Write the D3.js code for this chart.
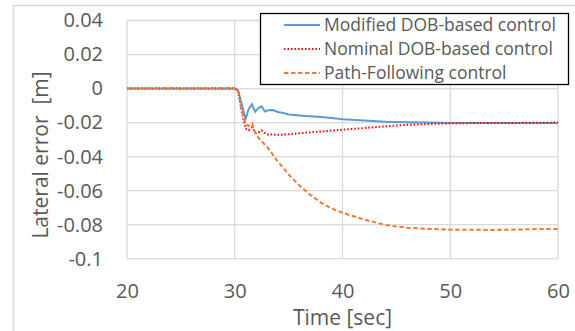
<!DOCTYPE html>
<html>
<head>
<meta charset="utf-8">
<script src="https://cdn.jsdelivr.net/npm/d3@7"></script>
<style>
  body { margin: 0; background: #fff; }
  text { font-family: "Open Sans", sans-serif; fill: #595959; }
</style>
</head>
<body>
<svg id="chart" width="575" height="331"></svg>
<script>
// time axis shared by all three runs [sec]
const time = [20, 30, 30.3, 30.6, 31.0, 31.3, 31.6, 31.9, 32.2, 32.5, 32.8, 33.1, 33.5, 34.0, 34.5,
	35, 36, 37, 38, 39, 40, 42, 44, 46, 48, 50, 52, 54, 56, 58, 60];

// lateral error [m]
const modifiedDob = [0, 0, -0.001, -0.008, -0.018, -0.012, -0.0093, -0.0136, -0.0115, -0.0105, -0.0135, -0.0128,
	-0.0126, -0.0138, -0.0143, -0.0152, -0.0158, -0.0163, -0.0167, -0.0173, -0.018, -0.0188, -0.0195,
	-0.0198, -0.02, -0.0202, -0.0203, -0.0203, -0.0203, -0.0203, -0.0202];
const nominalDob = [0, 0, -0.001, -0.012, -0.0235, -0.0245, -0.0228, -0.026, -0.0258, -0.0246, -0.0262, -0.0271,
	-0.027, -0.0272, -0.027, -0.0268, -0.0263, -0.0257, -0.0252, -0.0247, -0.0242, -0.0232, -0.0222,
	-0.0213, -0.0208, -0.0204, -0.0203, -0.0202, -0.0202, -0.0201, -0.020];
const pathFollowing = [0, 0, -0.001, -0.011, -0.021, -0.022, -0.0205, -0.026, -0.029, -0.031, -0.033, -0.035,
	-0.0385, -0.043, -0.0465, -0.0505, -0.057, -0.0625, -0.067, -0.0705, -0.073, -0.077, -0.0802,
	-0.0818, -0.0825, -0.0829, -0.083, -0.0831, -0.0829, -0.0826, -0.0825];

const xTicks = [20, 30, 40, 50, 60];
const yTicks = [0.04, 0.02, 0, -0.02, -0.04, -0.06, -0.08, -0.1];

const series = [
	{ name: "Modified DOB-based control", values: modifiedDob, color: "#5b9bd5", dash: null },
	{ name: "Nominal DOB-based control", values: nominalDob, color: "#ff0000", dash: "1.5,2" },
	{ name: "Path-Following control", values: pathFollowing, color: "#ed7d31", dash: "4.5,2.5" }
];

const svg = d3.select("#chart");

// outer chart frame (runs off the page on the right / bottom)
svg.append("rect")
	.attr("x", 13.5).attr("y", 5.5)
	.attr("width", 600).attr("height", 400)
	.attr("fill", "none")
	.attr("stroke", "#d9d9d9")
	.attr("stroke-width", 1.5);

const x = d3.scaleLinear().domain([20, 60]).range([127, 558]);
const y = d3.scaleLinear().domain([-0.1, 0.04]).range([258.7, 20.5]);

// gridlines
svg.append("g")
	.selectAll("line")
	.data(yTicks)
	.enter().append("line")
		.attr("x1", x(20)).attr("x2", x(60))
		.attr("y1", d => y(d)).attr("y2", d => y(d))
		.attr("stroke", "#d9d9d9")
		.attr("stroke-width", 1.3);

svg.append("g")
	.selectAll("line")
	.data(xTicks)
	.enter().append("line")
		.attr("x1", d => x(d)).attr("x2", d => x(d))
		.attr("y1", y(0.04)).attr("y2", y(-0.1))
		.attr("stroke", "#d9d9d9")
		.attr("stroke-width", 1.3);

// axes, labels only (plain hyphen for negatives, like the original)
const yAxis = svg.append("g")
	.attr("transform", "translate(" + x(20) + ",0)")
	.call(d3.axisLeft(y).tickValues(yTicks).tickSize(0).tickPadding(24)
		.tickFormat(d => String(+d.toFixed(2))));
const xAxis = svg.append("g")
	.attr("transform", "translate(0," + y(-0.1) + ")")
	.call(d3.axisBottom(x).tickValues(xTicks).tickSize(0));

[yAxis, xAxis].forEach(function(ax) {
	ax.select(".domain").remove();
	ax.selectAll("text")
		.attr("font-family", "Open Sans, sans-serif")
		.attr("font-size", "20px")
		.attr("fill", "#595959");
});
xAxis.selectAll("text")
	.attr("y", 298 - y(-0.1))
	.attr("dy", 0);

// series
const line = d3.line()
	.x((d, i) => x(time[i]))
	.y(d => y(d));

series.forEach(function(s) {
	svg.append("path")
		.datum(s.values)
		.attr("d", line)
		.attr("fill", "none")
		.attr("stroke", s.color)
		.attr("stroke-width", 2)
		.attr("stroke-dasharray", s.dash);
});

// axis titles
svg.append("text")
	.attr("x", (x(20) + x(60)) / 2)
	.attr("y", 325)
	.attr("text-anchor", "middle")
	.attr("font-size", "21px")
	.text("Time [sec]");

svg.append("text")
	.attr("transform", "translate(48,155) rotate(-90)")
	.attr("text-anchor", "middle")
	.attr("font-size", "21px")
	.style("white-space", "pre")
	.text("Lateral error  [m]");

// legend
const legend = svg.append("g");
legend.append("rect")
	.attr("x", 260.5).attr("y", 13.5)
	.attr("width", 308).attr("height", 71)
	.attr("fill", "#fff")
	.attr("stroke", "#000")
	.attr("stroke-width", 1.3);

const item = legend.selectAll("g.item")
	.data(series)
	.enter().append("g")
		.attr("class", "item")
		.attr("transform", (d, i) => "translate(0," + (25 + i * 24) + ")");

item.append("line")
	.attr("x1", 284).attr("x2", 320)
	.attr("stroke", d => d.color)
	.attr("stroke-width", 2)
	.attr("stroke-dasharray", d => d.dash);

item.append("text")
	.attr("x", 324)
	.attr("dy", "0.35em")
	.attr("font-size", "17.5px")
	.text(d => d.name);
</script>
</body>
</html>
